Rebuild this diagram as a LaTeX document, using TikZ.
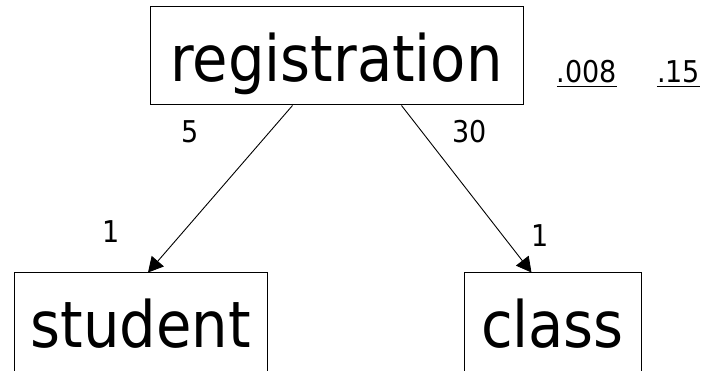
\documentclass[tikz,border=0pt]{standalone}
\usepackage{fontspec}
\newfontfamily\diagfont{DejaVu Sans Condensed}
\usetikzlibrary{arrows.meta}

\begin{document}
\begin{tikzpicture}[x=1pt, y=-1pt,
    entity/.style={draw, line width=1pt, inner sep=0pt, text height=75pt, text depth=23pt,
                   font=\diagfont\fontsize{64}{70}\selectfont},
    card/.style={inner sep=0pt, font=\diagfont\fontsize{30}{32}\selectfont},
    link/.style={line width=0.9pt, -{Triangle[length=15pt, width=16pt]}}]

            % Fix the page to the reference size
            \useasboundingbox (0,0) rectangle (710,371);
            \clip (0,0) rectangle (710,371);

            % The three entity boxes (the lower two run past the page)
            \node[entity, minimum width=373pt] (registration) at (336.5, 56) {registration};
            \node[entity, text depth=29pt, minimum width=253pt] (student) at (140.5, 325) {student};
            \node[entity, text depth=29pt, minimum width=177pt] (class) at (552.5, 325) {class};

            % Links from registration to student and class
            \draw[link] ([xshift=-44pt]registration.south) -- ([xshift=7.5pt]student.north);
            \draw[link] ([xshift=65pt]registration.south) -- ([xshift=-21pt]class.north);

            % Cardinalities at both ends
            \node[card] (manyStudent) at (190.5, 132) {5};
            \node[card] (manyClass) at (469.5, 132) {30};
            \node[card] (oneStudent) at (111.5, 232) {1};
            \node[card] (oneClass) at (540.5, 236) {1};

            % Ratios, underlined
            \node[card, anchor=base] (ratioStudent) at (587, 83) {.008};
            \node[card, anchor=base] (ratioClass) at (678.5, 83) {.15};
            \draw[line width=0.8pt] ([yshift=-3pt]ratioStudent.base west) -- ([yshift=-3pt]ratioStudent.base east);
            \draw[line width=0.8pt] ([yshift=-3pt]ratioClass.base west) -- ([yshift=-3pt]ratioClass.base east);
        \end{tikzpicture}
\end{document}
